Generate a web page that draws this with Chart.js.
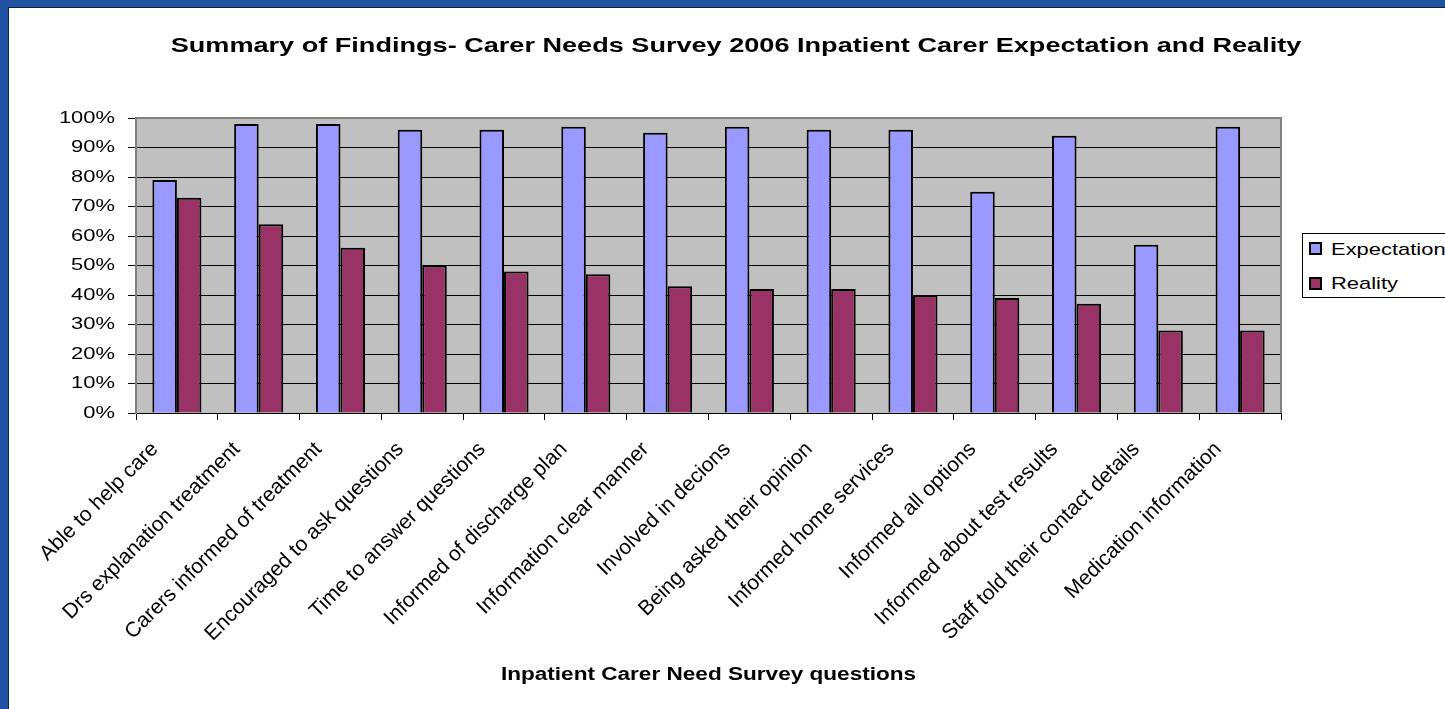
<!DOCTYPE html>
<html lang="en">
<head>
<meta charset="UTF-8" />
<title>Carer Needs Survey 2006</title>
<script src="https://cdn.jsdelivr.net/npm/chart.js"></script>
<style>
    html, body { margin: 0; padding: 0; }
    body {
        width: 1445px;
        height: 709px;
        background: #2151a3;
        overflow: hidden;
        font-family: 'Liberation Sans', Arial, sans-serif;
    }
    .panel {
        position: absolute;
        left: 8px;
        top: 7px;
        width: 1437px;
        height: 702px;
        background: #fff;
        border-left: 1px solid #0b1f4a;
        border-top: 1px solid #0b1f4a;
        box-sizing: border-box;
        overflow: hidden;
    }
    .panel canvas { position: absolute; left: 0; top: 0; }
    .legend {
        position: absolute;
        left: 1293px;
        top: 225px;
        width: 200px;
        height: 63px;
        border: 1px solid #000;
        background: #fff;
        font-size: 17px;
        color: #000;
    }
    .legend .box {
        position: absolute;
        left: 6px;
        width: 9px;
        height: 9px;
        border: 2px solid #000;
    }
    /* text in the original is drawn wide */
    .legend .txt {
        position: absolute;
        left: 28px;
        line-height: 20px;
        white-space: nowrap;
        transform: scaleX(1.29);
        transform-origin: 0 0;
    }
</style>
</head>
<body>
<div class="panel">
    <canvas id="chart" width="1436" height="701"></canvas>
    <div class="legend">
        <div class="box" style="top:8px;background:#9999ff"></div>
        <div class="txt" style="top:6px">Expectation</div>
        <div class="box" style="top:43px;background:#993366"></div>
        <div class="txt" style="top:40px">Reality</div>
    </div>
</div>
<script>
    const questions = [
        'Able to help care', 'Drs explanation treatment', 'Carers informed of treatment',
        'Encouraged to ask questions', 'Time to answer questions', 'Informed of discharge plan',
        'Information clear manner', 'Involved in decions', 'Being asked their opinion',
        'Informed home services', 'Informed all options', 'Informed about test results',
        'Staff told their contact details', 'Medication information'
    ];
    const expectation = [79, 98, 98, 96, 96, 97, 95, 97, 96, 96, 75, 94, 57, 97];
    const reality = [73, 64, 56, 50, 48, 47, 43, 42, 42, 40, 39, 37, 28, 28];
    const yTicks = [0, 10, 20, 30, 40, 50, 60, 70, 80, 90, 100];

    const chartTitle = 'Summary of Findings- Carer Needs Survey 2006 Inpatient Carer Expectation and Reality';
    const axisTitle = 'Inpatient Carer Need Survey questions';
    const font = '"Liberation Sans", Arial, sans-serif';
    const wide = 1.29;   // horizontal stretch of the original's text

    function wideText(ctx, text, x, y, align) {
        ctx.save();
        ctx.scale(wide, 1);
        ctx.textAlign = align;
        ctx.fillText(text, x / wide, y);
        ctx.restore();
    }

    // grey plot background, frame, titles and the stretched y labels
    const plotFrame = {
        id: 'plotFrame',
        beforeDraw(chart) {
            const { ctx, chartArea: a } = chart;
            ctx.save();
            ctx.fillStyle = '#c0c0c0';
            ctx.fillRect(a.left, a.top, a.right - a.left, a.bottom - a.top);
            ctx.restore();
        },
        afterDraw(chart) {
            const { ctx, chartArea: a } = chart;
            const y = chart.scales.y;
            ctx.save();
            ctx.strokeStyle = '#808080';
            ctx.lineWidth = 2;
            ctx.beginPath();
            ctx.moveTo(a.left, a.top);
            ctx.lineTo(a.right, a.top);
            ctx.lineTo(a.right, a.bottom);
            ctx.stroke();

            ctx.fillStyle = '#000';
            ctx.textBaseline = 'middle';
            ctx.font = 'bold 21px ' + font;
            wideText(ctx, chartTitle, 727, 38, 'center');
            ctx.font = 'bold 17.5px ' + font;
            wideText(ctx, axisTitle, (a.left + a.right) / 2, 667, 'center');
            ctx.font = '17px ' + font;
            y.ticks.forEach(t => {
                wideText(ctx, t.value + '%', a.left - 21, y.getPixelForValue(t.value), 'right');
            });
            ctx.restore();
        }
    };

    new Chart(document.getElementById('chart'), {
        type: 'bar',
        data: {
            labels: questions,
            datasets: [{
                label: 'Expectation',
                data: expectation,
                backgroundColor: '#9999ff',
                borderColor: '#000',
                borderWidth: 2
            }, {
                label: 'Reality',
                data: reality,
                backgroundColor: '#993366',
                borderColor: '#000',
                borderWidth: 2
            }]
        },
        options: {
            responsive: false,
            animation: false,
            categoryPercentage: 0.6,
            barPercentage: 1,
            layout: { padding: { top: 110, right: 164, left: 0, bottom: 0 } },
            plugins: {
                legend: { display: false },
                tooltip: { enabled: false }
            },
            scales: {
                x: {
                    afterFit: s => { s.height = 296; },
                    grid: { offset: true, drawOnChartArea: false, color: '#000', tickLength: 7 },
                    border: { color: '#000', width: 1 },
                    ticks: {
                        minRotation: 45, maxRotation: 45, autoSkip: false,
                        color: '#000', padding: 17, labelOffset: -22,
                        font: { family: font, size: 21 }
                    }
                },
                y: {
                    min: 0, max: 100,
                    afterBuildTicks: s => { s.ticks = yTicks.map(v => ({ value: v })); },
                    afterFit: s => { s.width = 127; },
                    grid: { color: '#000', tickLength: 8 },
                    border: { color: '#808080', width: 2 },
                    ticks: { display: false }
                }
            }
        },
        plugins: [plotFrame]
    });
</script>
</body>
</html>
